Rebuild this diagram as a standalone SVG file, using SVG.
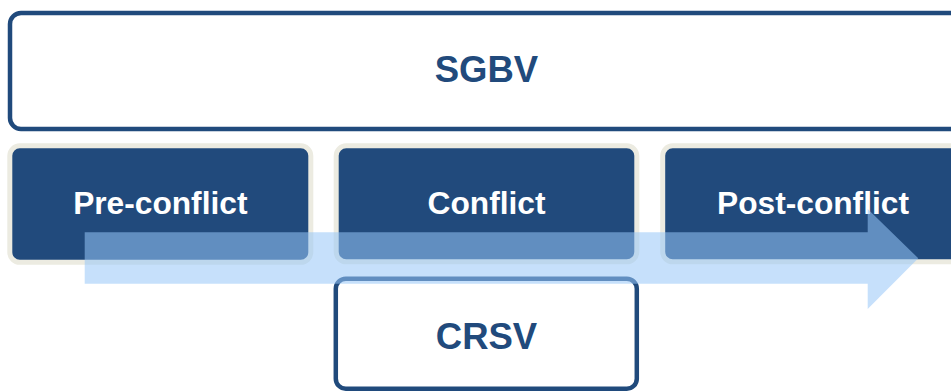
<svg xmlns="http://www.w3.org/2000/svg" width="951" height="391" viewBox="0 0 951 391">
<style>
.frame{fill:#ffffff;stroke:#204a7c;stroke-width:4.5}
.phase{fill:#214a7c;stroke:#ecebe1;stroke-width:5}
.big{font-family:"Liberation Sans",Arial,sans-serif;font-weight:bold;font-size:36.5px;fill:#214a7c;text-anchor:middle}
.lbl{font-family:"Liberation Sans",Arial,sans-serif;font-weight:bold;font-size:31.7px;fill:#ffffff;text-anchor:middle}
.arrow{fill:#97c7f8;fill-opacity:0.55}
</style>
<g id="sgbv">
<rect class="frame" x="10" y="13" width="952" height="116" rx="11"/>
<text class="big" x="486.5" y="82">SGBV</text>
</g>
<g id="pre-conflict">
<rect class="phase" x="9.8" y="145.8" width="301" height="116.5" rx="10"/>
<text class="lbl" x="160.3" y="213.5">Pre-conflict</text>
</g>
<g id="conflict">
<rect class="phase" x="336.2" y="145.8" width="300.6" height="116" rx="10"/>
<text class="lbl" x="486.5" y="213.5">Conflict</text>
</g>
<g id="post-conflict">
<rect class="phase" x="662.7" y="145.8" width="301" height="116" rx="10"/>
<text class="lbl" x="813" y="213.5">Post-conflict</text>
</g>
<g id="crsv">
<rect class="frame" x="335.8" y="278.7" width="301" height="110" rx="10"/>
<text class="big" x="486.5" y="349.3">CRSV</text>
</g>
<g id="connectors">
<path class="arrow" d="M84.7,232.3 H867.7 V209 L918.3,258.3 L867.7,309 V283.7 H84.7 Z"/>
</g>
</svg>
